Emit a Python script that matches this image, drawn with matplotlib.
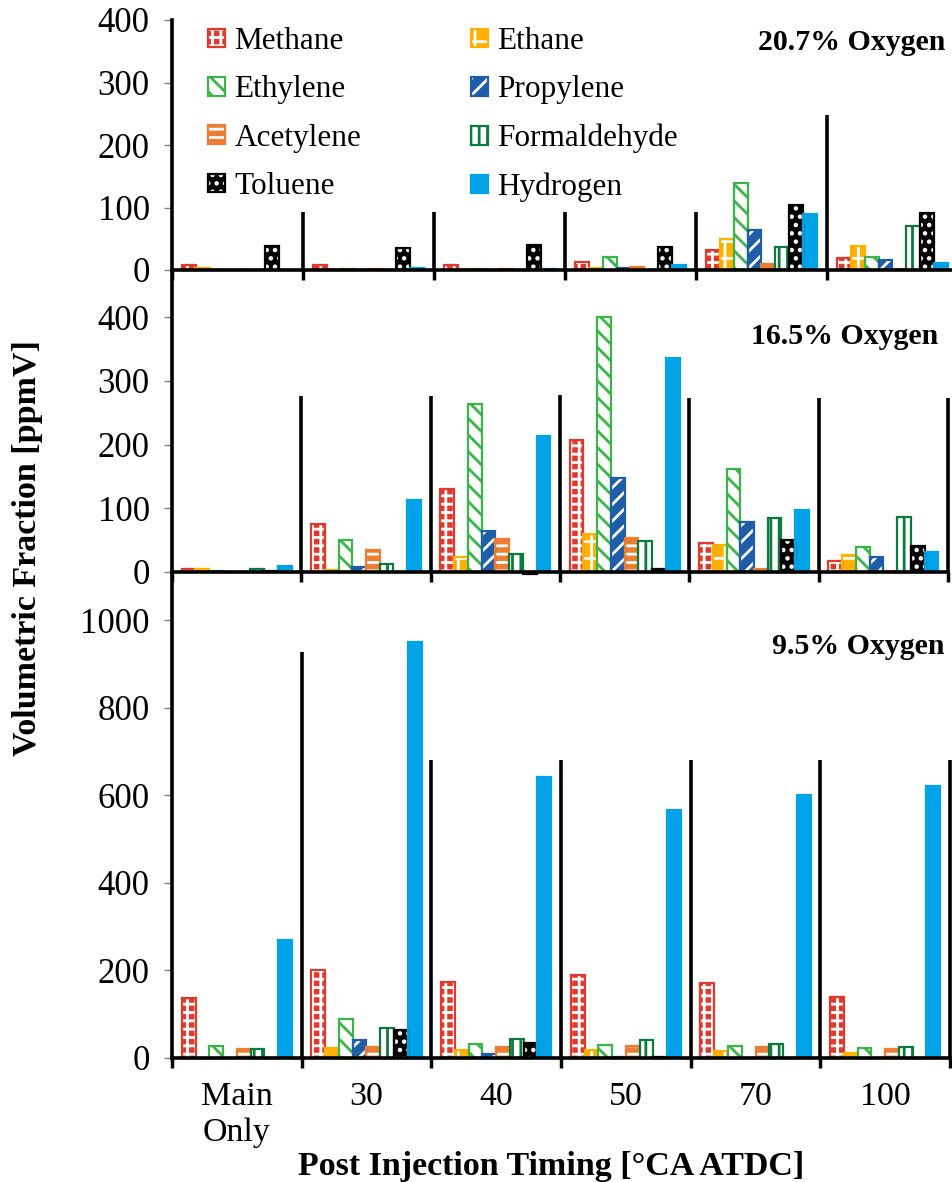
import matplotlib
matplotlib.use('Agg')
import matplotlib.pyplot as plt
from matplotlib.patches import Patch
import numpy as np

plt.rcParams['font.family'] = ['Liberation Serif', 'DejaVu Serif']
plt.rcParams['hatch.linewidth'] = 2.0

# ---------------- data ----------------
categories = ['Main\nOnly', '30', '40', '50', '70', '100']
species = ['Methane', 'Ethane', 'Ethylene', 'Propylene',
           'Acetylene', 'Formaldehyde', 'Toluene', 'Hydrogen']

# 20.7 % oxygen [ppmV]
o207_methane = [8, 8, 8, 13, 32, 19]
o207_ethane = [3, 2, 2, 4, 50, 38]
o207_ethylene = [0, 2, 2, 21, 139, 21]
o207_propylene = [0, 0, 0, 4, 64, 16]
o207_acetylene = [0, 2, 2, 5, 9, 2]
o207_formaldehyde = [0, 0, 0, 0, 37, 70]
o207_toluene = [38, 35, 40, 37, 104, 91]
o207_hydrogen = [0, 4, 2, 8, 89, 11]

# 16.5 % oxygen [ppmV]
o165_methane = [4, 75, 130, 207, 45, 17]
o165_ethane = [5, 3, 23, 59, 42, 27]
o165_ethylene = [1, 51, 263, 400, 161, 39]
o165_propylene = [0, 8, 64, 147, 78, 24]
o165_acetylene = [0, 35, 52, 53, 4, 2]
o165_formaldehyde = [4, 13, 29, 49, 85, 87]
o165_toluene = [2, 0, -3, 5, 50, 41]
o165_hydrogen = [9, 113, 213, 336, 97, 32]

# 9.5 % oxygen [ppmV]
o95_methane = [137, 201, 174, 190, 171, 140]
o95_ethane = [0, 23, 18, 18, 16, 11]
o95_ethylene = [27, 89, 32, 30, 27, 23]
o95_propylene = [0, 41, 9, 2, 0, 0]
o95_acetylene = [20, 25, 25, 27, 25, 20]
o95_formaldehyde = [20, 69, 43, 41, 32, 25]
o95_toluene = [0, 64, 35, 2, 0, 0]
o95_hydrogen = [270, 950, 642, 566, 600, 621]

panel_titles = ['20.7% Oxygen', '16.5% Oxygen', '9.5% Oxygen']
panel_ylims = [400, 474, 1110]
panel_yticks = [[0, 100, 200, 300, 400],
                [0, 100, 200, 300, 400],
                [0, 200, 400, 600, 800, 1000]]
# heights of the group separator lines (data units of each panel)
sep_heights = [[93, 93, 93, 93, 248, 248],
               [276, 276, 278, 273, 273, 273],
               [927, 680, 680, 680, 680, 680]]

panel_data = [
    [o207_methane, o207_ethane, o207_ethylene, o207_propylene,
     o207_acetylene, o207_formaldehyde, o207_toluene, o207_hydrogen],
    [o165_methane, o165_ethane, o165_ethylene, o165_propylene,
     o165_acetylene, o165_formaldehyde, o165_toluene, o165_hydrogen],
    [o95_methane, o95_ethane, o95_ethylene, o95_propylene,
     o95_acetylene, o95_formaldehyde, o95_toluene, o95_hydrogen],
]

# style: base face, hatch, hatch colour, outline colour
styles = {
    'Methane': ('#E03A2F', '++', 'white', '#E03A2F'),
    'Ethane': ('#FFB000', '+', 'white', '#FFB000'),
    'Ethylene': ('white', '\\\\', '#3BB54A', '#3BB54A'),
    'Propylene': ('#1F5DA8', '//', 'white', '#1F5DA8'),
    'Acetylene': ('#ED7D31', '--', 'white', '#ED7D31'),
    'Formaldehyde': ('white', '||', '#0B7A3E', '#0B7A3E'),
    'Toluene': ('black', '..', 'white', 'black'),
    'Hydrogen': ('#00A2E8', None, None, '#00A2E8'),
}

# ---------------- figure ----------------
W, H = 953, 1182
fig = plt.figure(figsize=(W / 100, H / 100), dpi=100)


def px_axes(left, top, right, bottom):
    return fig.add_axes([left / W, 1 - bottom / H, (right - left) / W, (bottom - top) / H])


axes = [px_axes(172, 20, 958, 270),
        px_axes(172, 270, 948, 572),
        px_axes(172, 572, 950, 1058)]

ncat = len(categories)
bw = 0.10625
base_x = np.arange(ncat)

for pi, ax in enumerate(axes):
    for k, sp in enumerate(species):
        vals = panel_data[pi][k]
        x = base_x + 0.075 + bw * (k + 0.5)
        face, hatch, hcol, ecol = styles[sp]
        ax.bar(x, vals, bw, color=face, edgecolor='none', linewidth=0,
               zorder=2, clip_on=False)
        if hatch:
            ax.bar(x, vals, bw, facecolor='none', edgecolor=hcol, hatch=hatch,
                   linewidth=0, zorder=2.1, clip_on=False)
        ax.bar(x, vals, bw, facecolor='none', edgecolor=ecol, linewidth=1.6,
               zorder=2.2, clip_on=False)

    ax.set_xlim(0, ncat)
    ax.set_ylim(0, panel_ylims[pi])
    ax.set_yticks(panel_yticks[pi])
    ax.set_xticks(np.arange(ncat + 1))
    ax.set_xticklabels([])
    ax.tick_params(axis='x', which='major', direction='out', length=7.5,
                   width=2.5, color='black')
    ax.tick_params(axis='y', direction='out', length=6, width=1,
                   color='#808080', labelsize=25, pad=10)
    for s in ['top', 'right']:
        ax.spines[s].set_visible(False)
    for s in ['left', 'bottom']:
        ax.spines[s].set_linewidth(2.6)
        ax.spines[s].set_zorder(4)
    ax.vlines(np.arange(1, ncat + 1), 0, sep_heights[pi], colors='black',
              linewidth=2.6, zorder=4, clip_on=False)
    ax.patch.set_alpha(0)

# category labels on the bottom panel
axb = axes[2]
axb.set_xticks(base_x + 0.5, minor=True)
axb.set_xticklabels(categories, minor=True, fontsize=24.5, linespacing=1.22)
axb.tick_params(axis='x', which='minor', length=0, pad=17)

# titles
fig.text(945 / W, 1 - 42 / H, panel_titles[0], ha='right', va='center',
         fontsize=21.5, fontweight='bold')
fig.text(938 / W, 1 - 336 / H, panel_titles[1], ha='right', va='center',
         fontsize=21.5, fontweight='bold')
fig.text(945 / W, 1 - 647 / H, panel_titles[2], ha='right', va='center',
         fontsize=21.5, fontweight='bold')

# axis labels
fig.text(28 / W, 1 - 548 / H, 'Volumetric Fraction [ppmV]', rotation=90,
         ha='center', va='center', fontsize=24.5, fontweight='bold')
fig.text(551 / W, 1 - 1166 / H, 'Post Injection Timing [°CA ATDC]',
         ha='center', va='center', fontsize=24.5, fontweight='bold')

# legend
handles = {}
for sp in species:
    face, hatch, hcol, ecol = styles[sp]
    parts = [Patch(facecolor=face, edgecolor='none', linewidth=0)]
    if hatch:
        parts.append(Patch(facecolor='none', edgecolor=hcol, hatch=hatch, linewidth=0))
    parts.append(Patch(facecolor='none', edgecolor=ecol, linewidth=1.6))
    handles[sp] = tuple(parts)

order = ['Methane', 'Ethylene', 'Acetylene', 'Toluene',
         'Ethane', 'Propylene', 'Formaldehyde', 'Hydrogen']
fig.legend([handles[s] for s in order], order, loc='upper left',
           bbox_to_anchor=(208 / W, 1 - 27 / H), bbox_transform=fig.transFigure,
           ncol=2, frameon=False, fontsize=22.5, handlelength=0.55,
           handleheight=0.55, handletextpad=0.3, columnspacing=3.5,
           labelspacing=0.62, borderpad=0, borderaxespad=0)

fig.savefig('out.png', dpi=100)
